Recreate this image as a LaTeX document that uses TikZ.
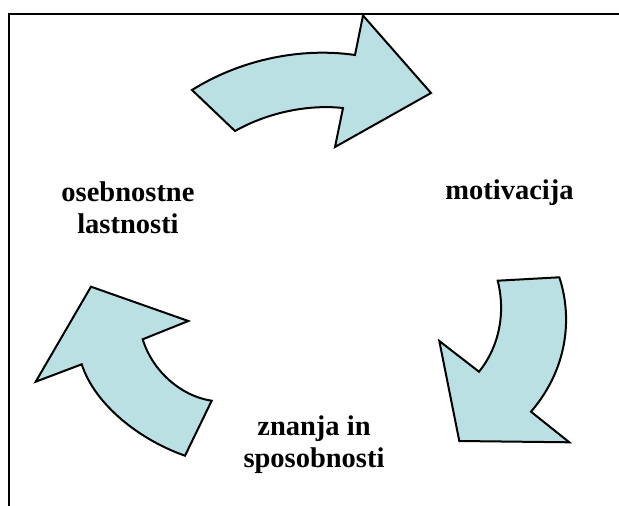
\documentclass[tikz,border=0pt]{standalone}
\usepackage{fontspec}
\setmainfont{Liberation Serif}
\definecolor{arrowfill}{RGB}{187,224,228}
\begin{document}
\begin{tikzpicture}[x=1pt,y=-1pt,
  cyclearrow/.style={draw=black,line width=2pt,fill=arrowfill,line join=miter},
  label/.style={font=\fontsize{28.5}{32}\selectfont\bfseries,align=center,inner sep=0pt,anchor=base}]
\useasboundingbox (0,0) rectangle (619,506);
% frame (top and left edges)
\draw[line width=2pt] (619,14) -- (9,14) -- (9,506);

% top arrow, pointing right
\draw[cyclearrow] (192,90) .. controls (240,60) and (300,47) .. (355,55)
  -- (363,15.5) -- (431,93) -- (335,147) -- (343,108)
  .. controls (305,104) and (265,114) .. (235,131) -- cycle;

% right arrow, pointing down
\draw[cyclearrow] (497.7,280.7) -- (559.3,277.3)
  .. controls (571,312) and (571,365) .. (531,411.7)
  -- (569.3,442.3) -- (459.3,441) -- (439.3,341) -- (479,371.7)
  .. controls (496,351) and (507,318) .. cycle;

% left arrow, pointing up
\draw[cyclearrow] (91,286.7) -- (188.3,321) -- (142.7,339.3)
  .. controls (152,370) and (180,396) .. (211.7,400.7)
  -- (185,455.7) .. controls (140,440) and (95,405) .. (81.7,364.3)
  -- (35.7,381.7) -- cycle;

% labels (base anchor sits on the last line)
\node[label] (osebnostne) at (128,233) {osebnostne\\lastnosti};
\node[label] (motivacija) at (509.5,199) {motivacija};
\node[label] (znanja) at (314,467) {znanja in\\sposobnosti};
\end{tikzpicture}
\end{document}
